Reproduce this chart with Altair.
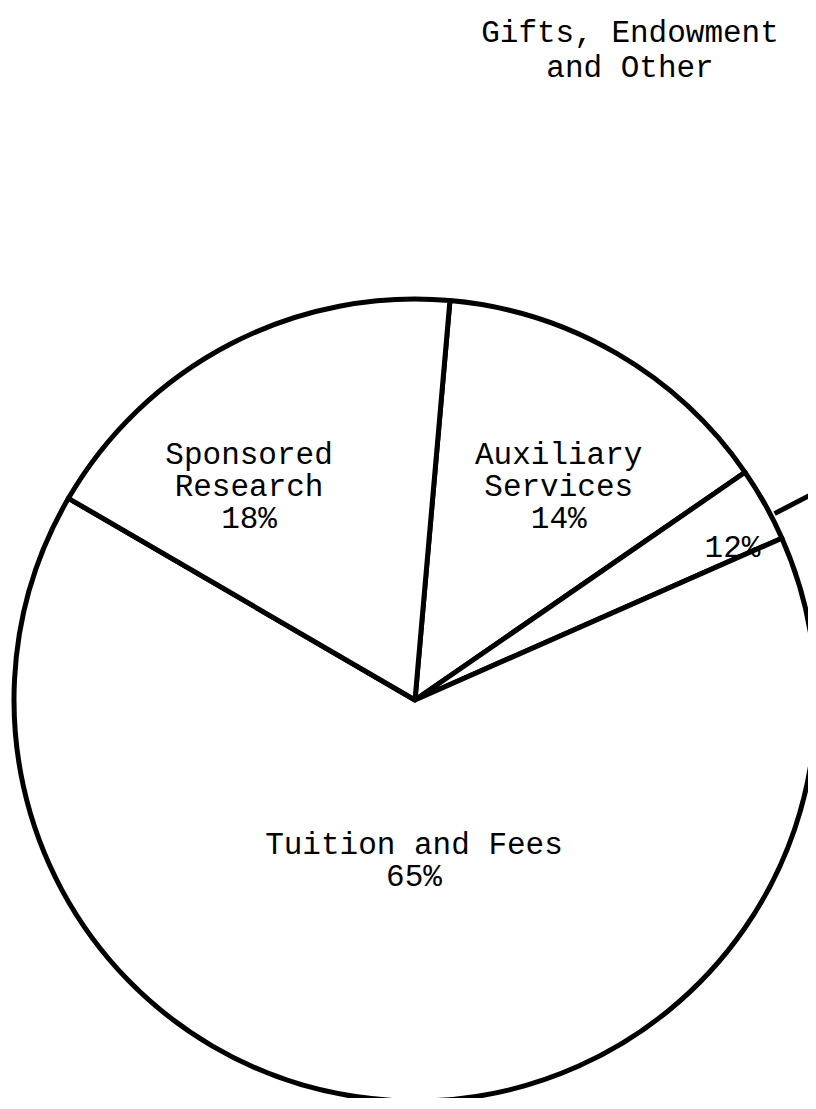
import altair as alt
import pandas as pd
import numpy as np

# ---- data ----
categories = ["Auxiliary Services", "Gifts, Endowment and Other", "Tuition and Fees", "Sponsored Research"]
shares = [14, 3, 65, 18]          # share of the circle as drawn (percent)
labels = ["Auxiliary\nServices\n14%", "12%", "Tuition and Fees\n65%", "Sponsored\nResearch\n18%"]
order = [0, 1, 2, 3]
outside_label = ["Gifts, Endowment", "and Other"]

# ---- style / layout (not data) ----
FONT = "Liberation Mono"
FS = 31
START_DEG = 5.0
R = 401
PAD_TOP = 90
W, H = 800, 1000
CX, CY = 407, 602
# placement of the first line of each label (radius in px, angle nudge in degrees)
label_radius = {"Auxiliary Services": 284, "Gifts, Endowment and Other": 352,
                "Tuition and Fees": 145, "Sponsored Research": 296}
label_nudge_deg = {"Auxiliary Services": 0.2, "Gifts, Endowment and Other": 3.6,
                   "Tuition and Fees": -2.8, "Sponsored Research": -6.7}

total = float(sum(shares))
df = pd.DataFrame({"category": categories, "share": shares, "label": labels, "order": order})
df["label_r"] = df["category"].map(label_radius)
df["nudge"] = df["category"].map(label_nudge_deg) / 360.0 * total

start = np.deg2rad(START_DEG)
theta_scale = alt.Scale(domain=[0, total], range=[start, start + 2 * np.pi], zero=True)

base = alt.Chart(df)

pie = base.mark_arc(radius=R, stroke="black", strokeWidth=5, fill="white", strokeJoin="round").encode(
    theta=alt.Theta("share:Q", stack=True, scale=theta_scale),
    order=alt.Order("order:Q"),
    x=alt.value(CX),
    y=alt.value(CY),
)

text = base.transform_window(
    cum="sum(share)", sort=[alt.SortField("order")], frame=[None, 0]
).transform_calculate(
    mid="datum.cum - datum.share / 2 + datum.nudge"
).mark_text(font=FONT, fontSize=FS, lineBreak="\n", lineHeight=32, align="center",
            baseline="middle", color="black").encode(
    theta=alt.Theta("mid:Q", stack=None, scale=theta_scale),
    radius=alt.Radius("label_r:Q", scale=None),
    text="label:N",
    x=alt.value(CX),
    y=alt.value(CY),
)

# leader line from the small "Gifts" slice toward its outside label
leader = base.transform_window(
    cum="sum(share)", sort=[alt.SortField("order")], frame=[None, 0]
).transform_filter(
    alt.datum.order == 1
).transform_calculate(
    a=f"{start} + (datum.cum - datum.share / 2 + 0.5) / {total} * 2 * PI",
).transform_calculate(
    x1=f"{CX} + 405 * sin(datum.a)", y1=f"{CY} - 405 * cos(datum.a)",
    x2=f"{CX} + 480 * sin(datum.a)", y2=f"{CY} - 480 * cos(datum.a)",
).mark_rule(stroke="black", strokeWidth=5).encode(
    x=alt.X("x1:Q", scale=None), y=alt.Y("y1:Q", scale=None),
    x2="x2:Q", y2="y2:Q",
)

chart = alt.layer(pie, text, leader).properties(
    width=W, height=H,
    autosize=alt.AutoSizeParams(type="none"),
    padding={"top": PAD_TOP, "left": 0, "right": 0, "bottom": 0},
    title=alt.TitleParams(text=outside_label, font=FONT, fontSize=FS, fontWeight="normal",
                          color="black", anchor="start", align="center", dx=622,
                          lineHeight=35, offset=14),
).configure_view(stroke=None)

chart.save("out.html", embed_options={"renderer": "svg", "actions": False})
